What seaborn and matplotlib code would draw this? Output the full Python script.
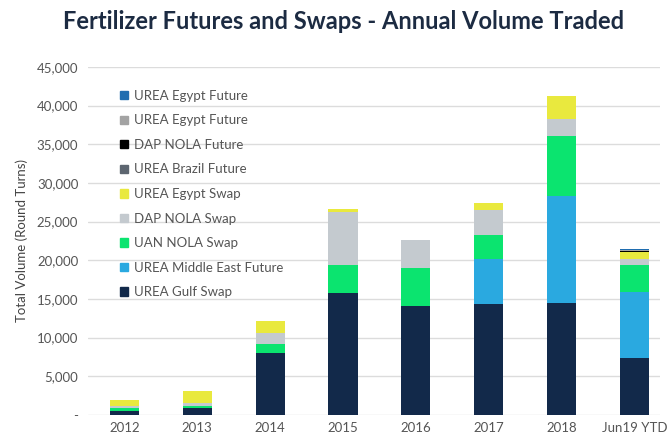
import numpy as np
import pandas as pd
import matplotlib
matplotlib.use("Agg")
import matplotlib.pyplot as plt
import seaborn as sns
from matplotlib.ticker import FuncFormatter

# data (round turns)
years = ["2012", "2013", "2014", "2015", "2016", "2017", "2018", "Jun19 YTD"]
urea_gulf_swap = [500, 950, 7980, 15820, 14100, 14400, 14520, 7330]
urea_me_future = [0, 0, 0, 0, 0, 5780, 13800, 8620]
uan_nola_swap = [350, 260, 1160, 3580, 4870, 3020, 7760, 3450]
dap_nola_swap = [250, 300, 1500, 6810, 3660, 3320, 2160, 740]
urea_egypt_swap = [800, 1590, 1510, 390, 0, 860, 3020, 860]
urea_brazil_future = [0, 0, 0, 0, 0, 0, 0, 100]
dap_nola_future = [0, 0, 0, 0, 0, 0, 0, 130]
urea_egypt_future_grey = [0, 0, 0, 0, 0, 0, 0, 50]
urea_egypt_future = [0, 0, 0, 0, 0, 0, 0, 200]

# legend order = top of stack first (two series share a name, keyed apart by a trailing space)
series = {
    "UREA Egypt Future": urea_egypt_future,
    "UREA Egypt Future ": urea_egypt_future_grey,
    "DAP NOLA Future": dap_nola_future,
    "UREA Brazil Future": urea_brazil_future,
    "UREA Egypt Swap": urea_egypt_swap,
    "DAP NOLA Swap": dap_nola_swap,
    "UAN NOLA Swap": uan_nola_swap,
    "UREA Middle East Future": urea_me_future,
    "UREA Gulf Swap": urea_gulf_swap,
}
colors = {
    "UREA Egypt Future": "#1f6db0",
    "UREA Egypt Future ": "#a3a3a3",
    "DAP NOLA Future": "#000000",
    "UREA Brazil Future": "#5d6670",
    "UREA Egypt Swap": "#e9e93e",
    "DAP NOLA Swap": "#c4cacf",
    "UAN NOLA Swap": "#0be46f",
    "UREA Middle East Future": "#2aa9e0",
    "UREA Gulf Swap": "#12294a",
}

rows = []
for name, vals in series.items():
    for y, v in zip(years, vals):
        rows.append({"year": y, "product": name, "volume": v})
df = pd.DataFrame(rows)

sns.set_style("white")
plt.rcParams["font.family"] = ["Lato", "DejaVu Sans"]

fig = plt.figure(figsize=(6.69, 4.34), dpi=100)
ax = fig.add_axes([0.1315, 0.044, 0.855, 0.802])

sns.histplot(data=df, x="year", hue="product", weights="volume",
             hue_order=list(series.keys()), palette=colors,
             multiple="stack", discrete=True, shrink=0.4,
             alpha=1, linewidth=0, legend=False, ax=ax)

ax.set_ylim(0, 45000)
ax.set_xlim(-0.5, 7.35)
ax.set_yticks(np.arange(0, 45001, 5000))
ax.yaxis.set_major_formatter(FuncFormatter(lambda v, p: "-" if v == 0 else f"{int(v):,}"))
ax.grid(axis="y", color="#dcdcdc", linewidth=1)
ax.set_axisbelow(True)
for s in ax.spines.values():
    s.set_visible(False)
ax.tick_params(axis="both", length=0, labelsize=9.5, colors="#555555")
ax.tick_params(axis="y", pad=7)
ax.tick_params(axis="x", pad=5)
ax.set_xlabel("")
ax.set_ylabel("Total Volume (Round Turns)", fontsize=9.5, color="#444444", labelpad=6)

handles = [plt.Rectangle((0, 0), 1, 1, color=colors[k]) for k in series]
labels = [k.strip() for k in series]
leg = ax.legend(handles, labels, loc="upper left", bbox_to_anchor=(0.035, 0.968),
                frameon=False, fontsize=9.5, handlelength=0.6, handleheight=0.6,
                handletextpad=0.5, labelspacing=0.95)
for t in leg.get_texts():
    t.set_color("#555555")

fig.suptitle("Fertilizer Futures and Swaps - Annual Volume Traded", x=0.513, y=0.977,
             fontsize=17, fontweight="bold", color="#1c2b42")

fig.savefig("out.png", dpi=100)
